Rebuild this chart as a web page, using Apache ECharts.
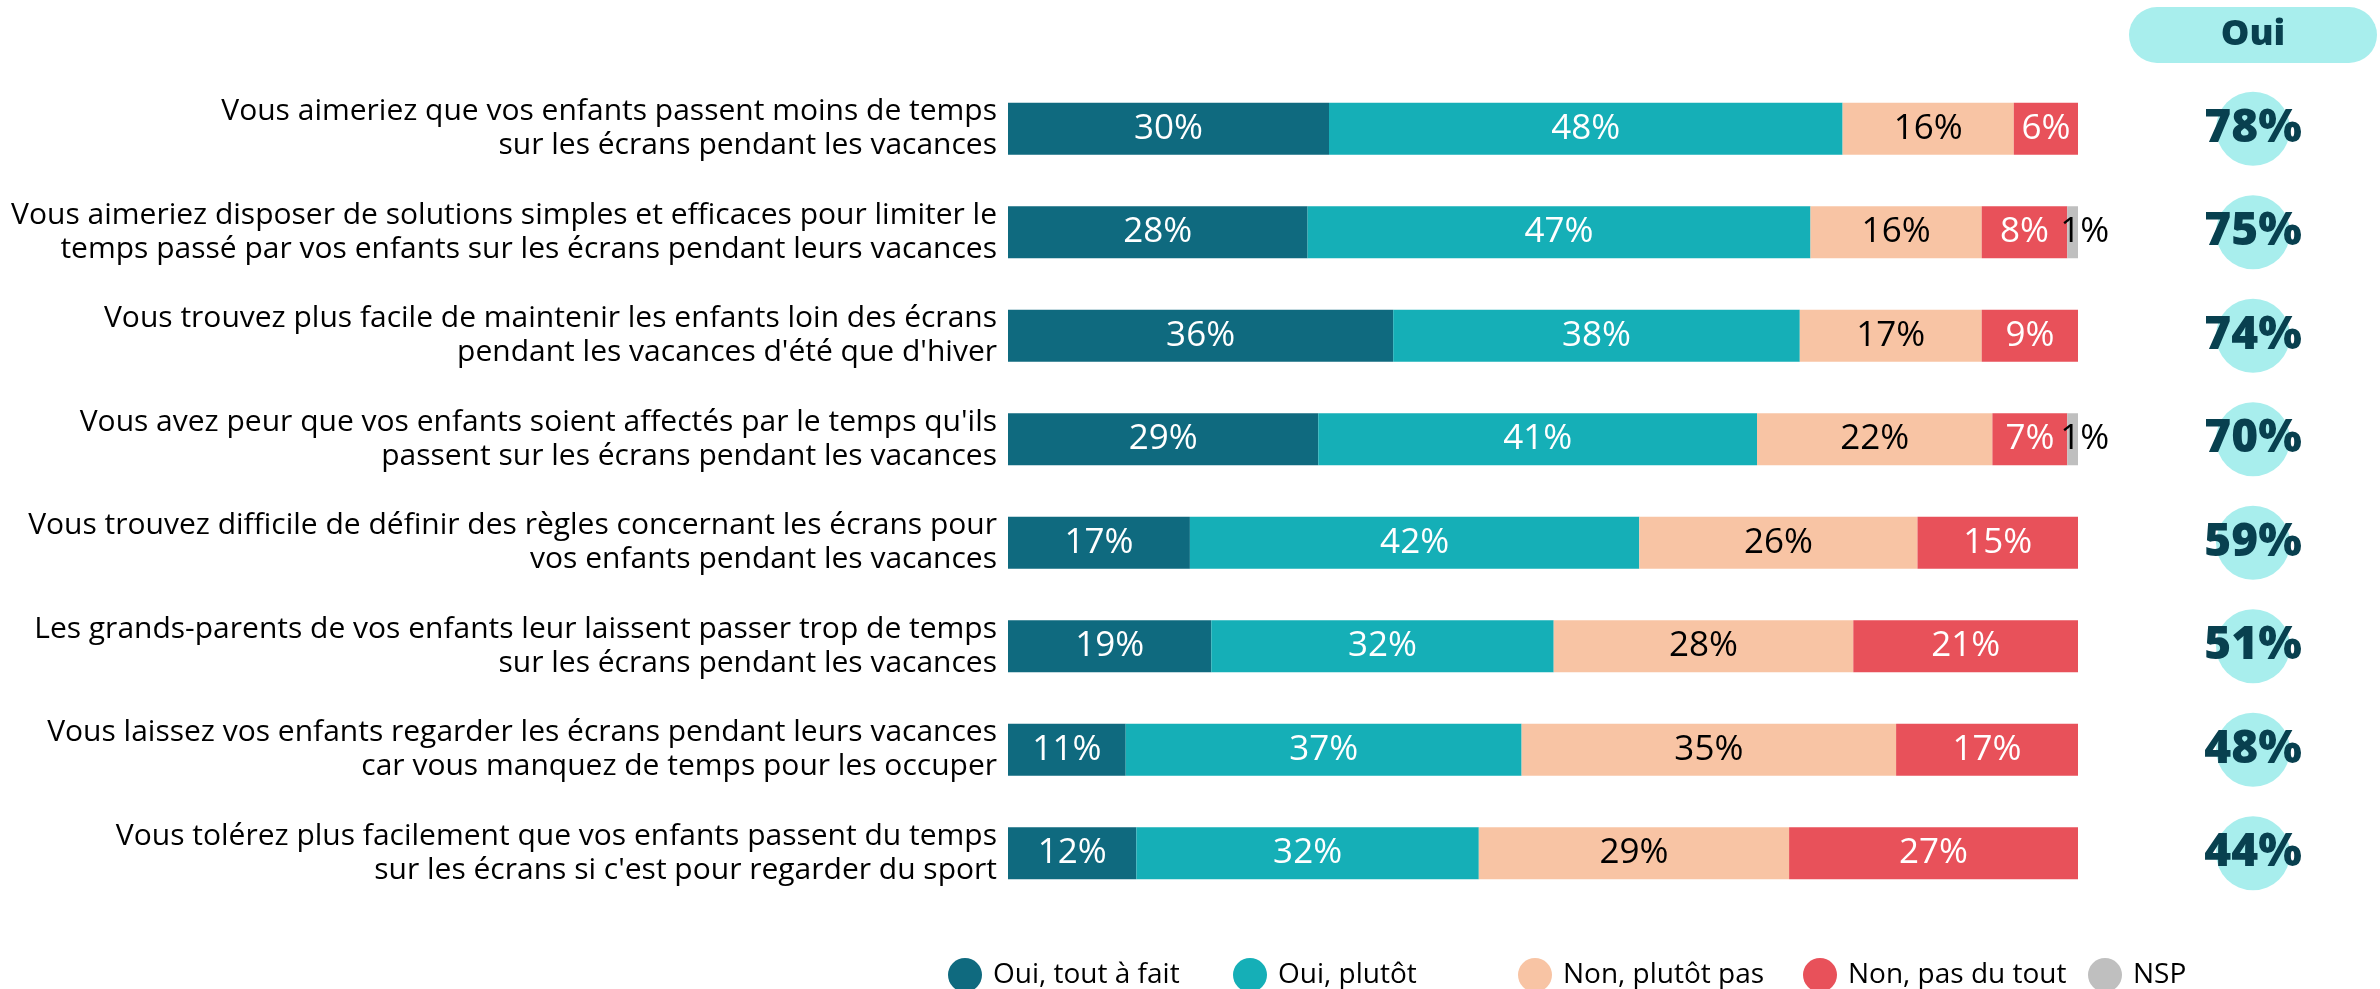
<!DOCTYPE html>
<html>
<head>
<meta charset="utf-8">
<title>Écrans et vacances</title>
<script src="https://cdn.jsdelivr.net/npm/echarts@6/dist/echarts.min.js"></script>
<style>
  html, body { margin: 0; padding: 0; background: #fff; }
  #chart { width: 2380px; height: 989px; }
</style>
</head>
<body>
<div id="chart"></div>
<script>
// questions, de haut en bas
const questions = [
  "Vous aimeriez que vos enfants passent moins de temps\nsur les écrans pendant les vacances",
  "Vous aimeriez disposer de solutions simples et efficaces pour limiter le\ntemps passé par vos enfants sur les écrans pendant leurs vacances",
  "Vous trouvez plus facile de maintenir les enfants loin des écrans\npendant les vacances d'été que d'hiver",
  "Vous avez peur que vos enfants soient affectés par le temps qu'ils\npassent sur les écrans pendant les vacances",
  "Vous trouvez difficile de définir des règles concernant les écrans pour\nvos enfants pendant les vacances",
  "Les grands-parents de vos enfants leur laissent passer trop de temps\nsur les écrans pendant les vacances",
  "Vous laissez vos enfants regarder les écrans pendant leurs vacances\ncar vous manquez de temps pour les occuper",
  "Vous tolérez plus facilement que vos enfants passent du temps\nsur les écrans si c'est pour regarder du sport"
];

const answers = ['Oui, tout à fait', 'Oui, plutôt', 'Non, plutôt pas', 'Non, pas du tout', 'NSP'];

const ouiToutAFait = [30, 28, 36, 29, 17, 19, 11, 12];
const ouiPlutot    = [48, 47, 38, 41, 42, 32, 37, 32];
const nonPlutotPas = [16, 16, 17, 22, 26, 28, 35, 29];
const nonPasDuTout = [6, 8, 9, 7, 15, 21, 17, 27];
const nsp          = [null, 1, null, 1, null, null, null, null];

// total "Oui" (colonne de droite)
const totalOui = [78, 75, 74, 70, 59, 51, 48, 44];
const ouiColumn = ['Oui'];

const FONT = "'Segoe UI', 'Open Sans', sans-serif";

const chart = echarts.init(document.getElementById('chart'), null, { renderer: 'canvas' });

function barSeries(name, data, color, labelColor, extraLabel) {
  return {
    name: name,
    type: 'bar',
    stack: 'total',
    data: data,
    barWidth: 52,
    xAxisIndex: 0,
    yAxisIndex: 0,
    itemStyle: { color: color },
    label: Object.assign({
      show: true,
      position: 'inside',
      color: labelColor,
      fontFamily: FONT,
      fontSize: 35,
      formatter: p => p.value == null ? '' : p.value + '%'
    }, extraLabel || {}),
    emphasis: { disabled: true }
  };
}

// une légende par réponse, à pas régulier
const legends = answers.map((name, i) => ({
  left: 943 + i * 285,
  top: 953,
  icon: 'circle',
  itemWidth: 34,
  itemHeight: 34,
  data: [name],
  textStyle: { fontFamily: FONT, fontSize: 28, color: '#000', padding: [0, 0, 0, 6] },
  selectedMode: false
}));

chart.setOption({
  animation: false,
  backgroundColor: '#fff',
  textStyle: { fontFamily: FONT },
  grid: [
    { left: 1008, width: 1070, top: 77, height: 828 },
    { left: 2129, width: 248, top: 77, height: 828 }
  ],
  legend: legends,
  xAxis: [
    { type: 'value', gridIndex: 0, min: 0, max: 100, show: false },
    {
      type: 'category',
      gridIndex: 1,
      data: ouiColumn,
      position: 'top',
      axisLine: { show: false },
      axisTick: { show: false },
      axisLabel: {
        margin: 14,
        fontFamily: FONT,
        fontSize: 36,
        fontWeight: 800,
        color: '#08404F',
        backgroundColor: '#A8EEED',
        borderRadius: 28,
        width: 248,
        height: 56,
        lineHeight: 56,
        align: 'center'
      }
    }
  ],
  yAxis: [
    {
      type: 'category',
      gridIndex: 0,
      data: questions,
      inverse: true,
      axisLine: { show: false },
      axisTick: { show: false },
      axisLabel: {
        margin: 11,
        fontFamily: FONT,
        fontSize: 30,
        lineHeight: 34,
        color: '#000',
        align: 'right'
      }
    },
    { type: 'category', gridIndex: 1, data: questions, inverse: true, show: false }
  ],
  series: [
    barSeries(answers[0], ouiToutAFait, '#0F6A7F', '#fff'),
    barSeries(answers[1], ouiPlutot, '#15AFB7', '#fff'),
    barSeries(answers[2], nonPlutotPas, '#F8C4A4', '#000'),
    barSeries(answers[3], nonPasDuTout, '#E8515A', '#fff'),
    barSeries(answers[4], nsp, '#BFBFBF', '#000', { offset: [12, 0] }),
    {
      name: 'Total Oui',
      type: 'scatter',
      xAxisIndex: 1,
      yAxisIndex: 1,
      symbol: 'circle',
      symbolSize: 74,
      itemStyle: { color: '#A8EEED', opacity: 1 },
      data: totalOui.map((v, i) => [ouiColumn[0], questions[i], v]),
      label: {
        show: true,
        position: 'inside',
        fontFamily: FONT,
        fontSize: 46,
        fontWeight: 800,
        color: '#08404F',
        formatter: p => p.value[2] + '%'
      },
      emphasis: { disabled: true }
    }
  ]
});
</script>
</body>
</html>
